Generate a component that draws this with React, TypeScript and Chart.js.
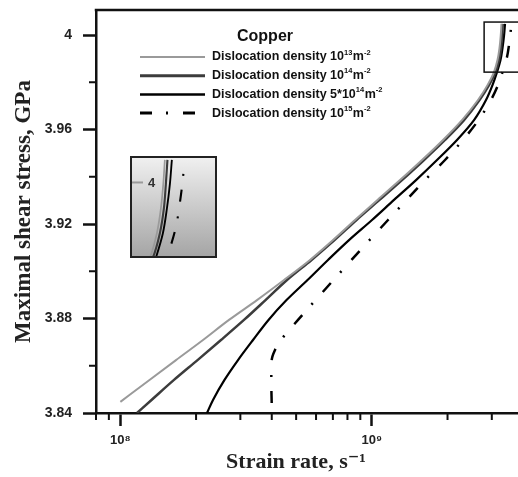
import React, { useEffect, useRef } from 'react';
import { Chart, registerables } from 'chart.js';

Chart.register(...registerables);

// ---- data (strain rate in s^-1, maximal shear stress in GPa) ----
const seriesNames = [
  'Dislocation density 10^{13}m^{-2}',
  'Dislocation density 10^{14}m^{-2}',
  'Dislocation density 5*10^{14}m^{-2}',
  'Dislocation density 10^{15}m^{-2}',
];

const rate13 = [1.0e8, 1.3057e8, 1.6642e8, 2.1315e8, 2.704e8, 3.494e8, 4.4748e8, 5.6776e8, 7.0081e8, 8.5726e8, 1.0533e9, 1.2943e9, 1.5834e9, 1.9191e9, 2.2834e9, 2.6438e9, 2.884e9, 3.0606e9, 3.1603e9, 3.2187e9, 3.2543e9, 3.2782e9];
const stress13 = [3.8447, 3.854, 3.8624, 3.8709, 3.8794, 3.8878, 3.8963, 3.9048, 3.9132, 3.9217, 3.9302, 3.9386, 3.9471, 3.9556, 3.964, 3.9725, 3.9788, 3.9843, 3.9894, 3.9945, 3.9996, 4.0047];

const rate14 = [1.1647e8, 1.3298e8, 1.634e8, 2.0269e8, 2.5129e8, 3.1018e8, 3.7771e8, 4.5996e8, 5.7561e8, 7.105e8, 8.6909e8, 1.0728e9, 1.3182e9, 1.6126e9, 1.9546e9, 2.3256e9, 2.6803e9, 2.9239e9, 3.1029e9, 3.204e9, 3.2632e9, 3.2933e9, 3.3175e9];
const stress14 = [3.84, 3.8455, 3.854, 3.8624, 3.8709, 3.8794, 3.8878, 3.8963, 3.9048, 3.9132, 3.9217, 3.9302, 3.9386, 3.9471, 3.9556, 3.964, 3.9725, 3.9788, 3.9843, 3.9894, 3.9945, 3.9996, 4.0047];

const rate5e14 = [2.2107e8, 2.3357e8, 2.5949e8, 2.9365e8, 3.3685e8, 3.8823e8, 4.5786e8, 5.5491e8, 6.6943e8, 8.1144e8, 1.0016e9, 1.2251e9, 1.4987e9, 1.8163e9, 2.1813e9, 2.5487e9, 2.8448e9, 3.0188e9, 3.1459e9, 3.2484e9, 3.3085e9, 3.3543e9, 3.3851e9];
const stress5e14 = [3.84, 3.8455, 3.854, 3.8624, 3.8709, 3.8794, 3.8878, 3.8963, 3.9048, 3.9132, 3.9217, 3.9302, 3.9386, 3.9471, 3.9556, 3.964, 3.9725, 3.9788, 3.9843, 3.9894, 3.9945, 3.9996, 4.0047];

const rate15 = [3.9977e8, 3.9831e8, 3.9977e8, 4.1205e8, 4.3535e8, 4.6847e8, 5.0868e8, 5.9704e8, 7.0401e8, 8.3021e8, 9.7891e8, 1.1598e9, 1.3736e9, 1.6275e9, 1.9546e9, 2.3044e9, 2.6559e9, 2.9776e9, 3.1748e9, 3.3085e9, 3.4478e9, 3.5114e9, 3.5535e9, 3.5763e9];
const stress15 = [3.8442, 3.8531, 3.8624, 3.8667, 3.8709, 3.8751, 3.8794, 3.8878, 3.8963, 3.9048, 3.9132, 3.9217, 3.9302, 3.9386, 3.9471, 3.9556, 3.964, 3.9725, 3.9788, 3.9843, 3.9907, 3.9958, 4.0, 4.003];

const seriesRates = [rate13, rate14, rate5e14, rate15];
const seriesStress = [stress13, stress14, stress5e14, stress15];

// ---- axes ----
const xMin = 8e7;
const xMax = 3.813e9;
const yMin = 3.84;
const yMax = 4.0106;
const xMajorTicks = [1e8, 1e9];
const xTickLabels = ['10⁸', '10⁹'];
const xMinorTicks = [8e7, 9e7, 2e8, 3e8, 4e8, 5e8, 6e8, 7e8, 8e8, 9e8, 2e9, 3e9];
const yMajorTicks = [3.84, 3.88, 3.92, 3.96, 4.0];
const yTickLabels = ['3.84', '3.88', '3.92', '3.96', '4'];
const yMinorTicks = [3.86, 3.9, 3.94, 3.98];

const legendTitle = 'Copper';
const xTitle = 'Strain rate, s⁻¹';
const yTitle = 'Maximal shear stress, GPa';

// ---- magnified region ----
const zoomXMin = 2.796e9;
const zoomXMax = 4.16e9;
const zoomYMin = 3.9843;
const zoomYMax = 4.0055;
const insetTick = 4;
const insetTickLabel = '4';

// ---- styles ----
const seriesColors = ['#9a9a9a', '#3c3c3c', '#000000', '#000000'];
const seriesWidths = [2, 2.5, 2.2, 2.5];
const seriesDash: number[][] = [[], [], [], [12, 14, 2, 15]];
const legendWidths = [2, 3, 2.5, 3];
const SANS = '"Liberation Sans", Arial, "DejaVu Sans", sans-serif';
const SERIF = '"Liberation Serif", "Times New Roman", "DejaVu Serif", serif';

function makeDatasets(scale: number) {
  return seriesRates.map((rates, i) => ({
    label: seriesNames[i],
    data: rates.map((r, j) => ({ x: r, y: seriesStress[i][j] })),
    borderColor: seriesColors[i],
    borderWidth: seriesWidths[i] * scale,
    borderDash: seriesDash[i],
    borderCapStyle: 'butt' as const,
    pointRadius: 0,
    cubicInterpolationMode: 'monotone' as const,
    fill: false,
  }));
}

function parseParts(s: string): { t: string; sup: boolean }[] {
  const out: { t: string; sup: boolean }[] = [];
  const re = /\^\{([^}]*)\}/g;
  let last = 0;
  let m: RegExpExecArray | null;
  while ((m = re.exec(s))) {
    if (m.index > last) out.push({ t: s.slice(last, m.index), sup: false });
    out.push({ t: m[1], sup: true });
    last = m.index + m[0].length;
  }
  if (last < s.length) out.push({ t: s.slice(last), sup: false });
  return out;
}

const mainPlugin = {
  id: 'mainDecor',
  afterDraw(chart: any) {
    const { ctx, chartArea, scales } = chart;
    const xs = scales.x;
    const ys = scales.y;
    ctx.save();
    // top frame
    ctx.strokeStyle = '#111';
    ctx.lineWidth = 2.5;
    ctx.beginPath();
    ctx.moveTo(chartArea.left - 1.25, chartArea.top);
    ctx.lineTo(chartArea.right + 2, chartArea.top);
    ctx.stroke();
    // minor ticks
    ctx.lineWidth = 2;
    ctx.beginPath();
    xMinorTicks.forEach((v) => {
      const px = xs.getPixelForValue(v);
      ctx.moveTo(px, chartArea.bottom);
      ctx.lineTo(px, chartArea.bottom + 7);
    });
    yMinorTicks.forEach((v) => {
      const py = ys.getPixelForValue(v);
      ctx.moveTo(chartArea.left, py);
      ctx.lineTo(chartArea.left - 7, py);
    });
    ctx.stroke();
    // magnified-region box
    const bx0 = xs.getPixelForValue(zoomXMin);
    const bx1 = xs.getPixelForValue(zoomXMax);
    const by0 = ys.getPixelForValue(zoomYMax);
    const by1 = ys.getPixelForValue(zoomYMin);
    ctx.lineWidth = 1.5;
    ctx.strokeStyle = '#111';
    ctx.strokeRect(bx0, by0, bx1 - bx0, by1 - by0);
    // legend
    const lx = chartArea.left + 44;
    ctx.fillStyle = '#111';
    ctx.font = `bold 16px ${SANS}`;
    ctx.textAlign = 'center';
    ctx.textBaseline = 'middle';
    ctx.fillText(legendTitle, chartArea.left + 169, chartArea.top + 27);
    ctx.textAlign = 'left';
    seriesNames.forEach((name, i) => {
      const y = chartArea.top + 47 + i * 18.7;
      ctx.save();
      ctx.strokeStyle = seriesColors[i];
      ctx.lineWidth = legendWidths[i];
      ctx.setLineDash(seriesDash[i]);
      ctx.lineCap = 'butt';
      ctx.beginPath();
      ctx.moveTo(lx, y);
      ctx.lineTo(lx + 65, y);
      ctx.stroke();
      ctx.restore();
      let tx = lx + 72;
      parseParts(name).forEach((p) => {
        if (p.sup) {
          ctx.font = `bold 7.5px ${SANS}`;
          ctx.fillText(p.t, tx, y - 4.5);
        } else {
          ctx.font = `bold 12.5px ${SANS}`;
          ctx.fillText(p.t, tx, y);
        }
        tx += ctx.measureText(p.t).width + (p.sup ? 0.5 : 0);
      });
    });
    ctx.restore();
  },
};

const insetPlugin = {
  id: 'insetDecor',
  beforeDraw(chart: any) {
    const { ctx, width, height } = chart;
    const g = ctx.createLinearGradient(0, 0, 0, height);
    g.addColorStop(0, '#f1f1f1');
    g.addColorStop(1, '#a4a4a4');
    ctx.save();
    ctx.fillStyle = g;
    ctx.fillRect(0, 0, width, height);
    ctx.restore();
  },
  afterDraw(chart: any) {
    const { ctx, width, height, scales } = chart;
    const py = scales.y.getPixelForValue(insetTick);
    ctx.save();
    ctx.strokeStyle = '#9a9a9a';
    ctx.lineWidth = 2;
    ctx.beginPath();
    ctx.moveTo(0, py);
    ctx.lineTo(13, py);
    ctx.stroke();
    ctx.fillStyle = '#333';
    ctx.font = `bold 13px ${SANS}`;
    ctx.textAlign = 'left';
    ctx.textBaseline = 'middle';
    ctx.fillText(insetTickLabel, 18, py + 1);
    ctx.strokeStyle = '#222';
    ctx.lineWidth = 2;
    ctx.strokeRect(1, 1, width - 2, height - 2);
    ctx.restore();
  },
};

export default function App() {
  const mainRef = useRef<HTMLCanvasElement>(null);
  const insetRef = useRef<HTMLCanvasElement>(null);

  useEffect(() => {
    const main = new Chart(mainRef.current as HTMLCanvasElement, {
      type: 'line',
      data: { datasets: makeDatasets(1) as any },
      options: {
        animation: false,
        responsive: false,
        indexAxis: 'y',
        events: [],
        layout: { padding: { top: 10, right: 0, left: 0, bottom: 0 } },
        plugins: { legend: { display: false }, tooltip: { enabled: false } },
        scales: {
          x: {
            type: 'logarithmic',
            position: 'bottom',
            min: xMin,
            max: xMax,
            afterBuildTicks: (s: any) => {
              s.ticks = xMajorTicks.map((v) => ({ value: v }));
            },
            afterFit: (s: any) => {
              s.height = 64;
              s.paddingLeft = 0;
              s.paddingRight = 0;
            },
            ticks: {
              autoSkip: false,
              maxRotation: 0,
              padding: 7,
              color: '#222',
              font: { family: SANS, size: 13, weight: 'bold' },
              callback: (v: any) => {
                const i = xMajorTicks.indexOf(Number(v));
                return i >= 0 ? xTickLabels[i] : '';
              },
            },
            grid: { display: true, drawOnChartArea: false, drawTicks: true, tickLength: 13, tickWidth: 2.5, tickColor: '#111' },
            border: { display: true, color: '#111', width: 2.5 },
            title: {
              display: true,
              text: xTitle + '    ',
              color: '#222',
              font: { family: SERIF, size: 22, weight: 'bold' },
              padding: { top: 0, bottom: 1 },
            },
          },
          y: {
            type: 'linear',
            position: 'left',
            min: yMin,
            max: yMax,
            afterBuildTicks: (s: any) => {
              s.ticks = yMajorTicks.map((v) => ({ value: v }));
            },
            afterFit: (s: any) => {
              s.width = 96;
              s.paddingTop = 0;
              s.paddingBottom = 0;
            },
            ticks: {
              autoSkip: false,
              padding: 11,
              color: '#222',
              font: { family: SANS, size: 14, weight: 'bold' },
              callback: (v: any) => {
                const i = yMajorTicks.findIndex((t) => Math.abs(t - Number(v)) < 1e-9);
                return i >= 0 ? yTickLabels[i] : '';
              },
            },
            grid: { display: true, drawOnChartArea: false, drawTicks: true, tickLength: 13, tickWidth: 2.5, tickColor: '#111' },
            border: { display: true, color: '#111', width: 2.5 },
            title: {
              display: true,
              text: yTitle,
              color: '#222',
              font: { family: SERIF, size: 23, weight: 'bold' },
              padding: { top: 10, bottom: 0 },
            },
          },
        },
      } as any,
      plugins: [mainPlugin],
    });

    const inset = new Chart(insetRef.current as HTMLCanvasElement, {
      type: 'line',
      data: { datasets: makeDatasets(0.85) as any },
      options: {
        animation: false,
        responsive: false,
        indexAxis: 'y',
        events: [],
        layout: { padding: 0 },
        plugins: { legend: { display: false }, tooltip: { enabled: false } },
        scales: {
          x: { type: 'logarithmic', position: 'bottom', display: false, min: zoomXMin, max: zoomXMax },
          y: { type: 'linear', position: 'left', display: false, min: zoomYMin, max: zoomYMax },
        },
      } as any,
      plugins: [insetPlugin],
    });

    return () => {
      main.destroy();
      inset.destroy();
    };
  }, []);

  return (
    <div style={{ position: 'fixed', left: 0, top: 0, width: 518, height: 477, overflow: 'hidden', background: '#fff' }}>
      <canvas ref={mainRef} width={518} height={477} style={{ position: 'absolute', left: 0, top: 0 }} />
      <canvas ref={insetRef} width={87} height={102} style={{ position: 'absolute', left: 130, top: 156 }} />
    </div>
  );
}
